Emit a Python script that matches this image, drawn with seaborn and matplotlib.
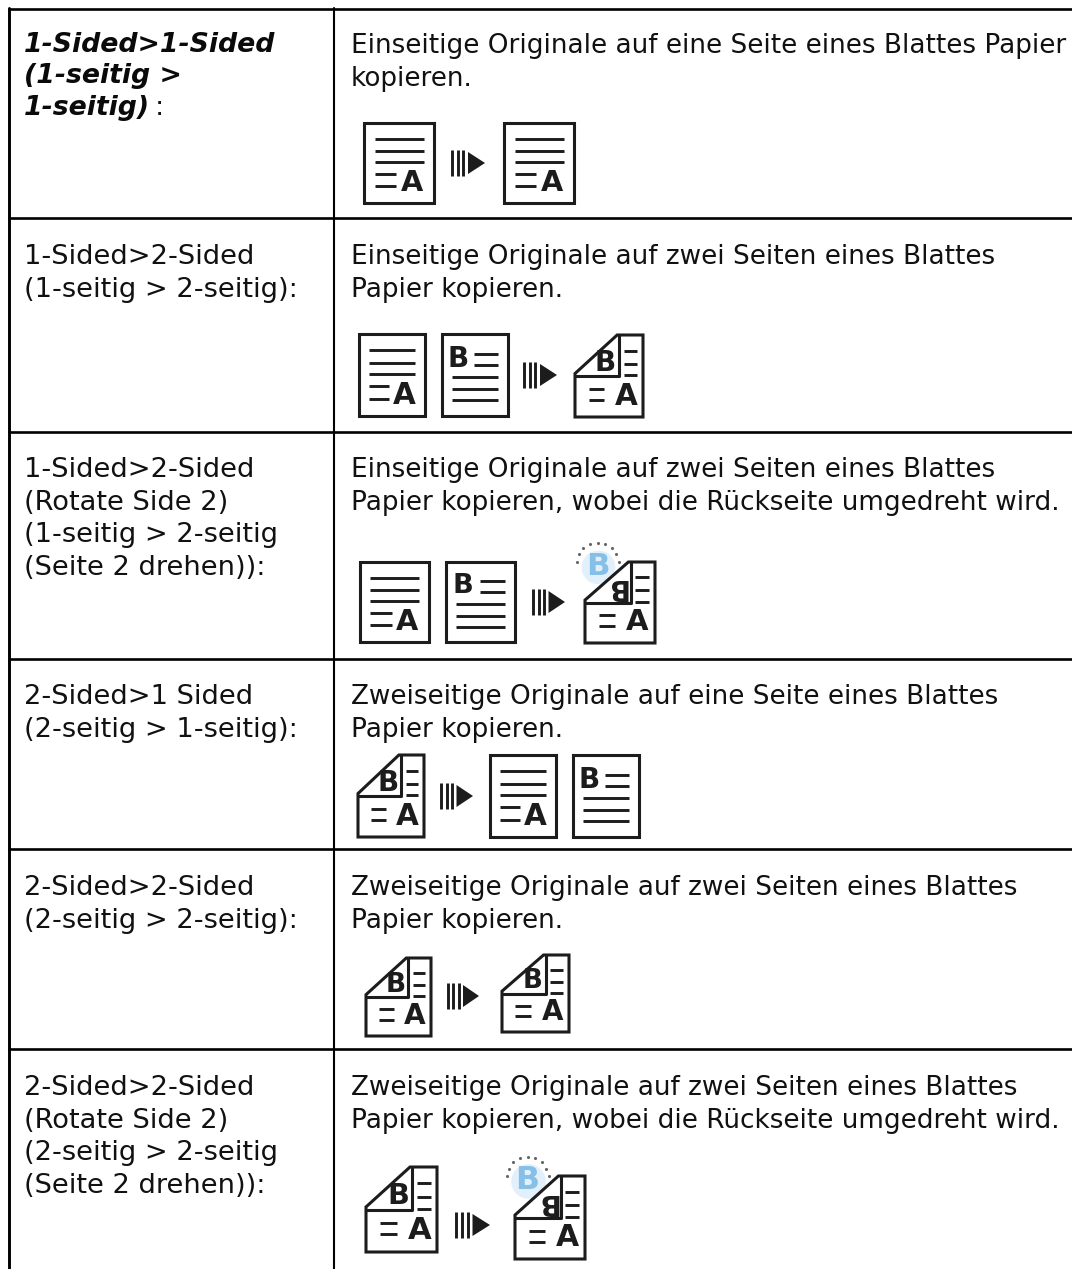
import numpy as np
import matplotlib
matplotlib.use("Agg")
import matplotlib.pyplot as plt
from matplotlib.patches import Rectangle, Polygon
import seaborn as sns

sns.set_theme(style="white")
plt.rcParams['font.family'] = ['DejaVu Sans']

W, H = 1072, 1269
TEXT = '#111111'
FS_RIGHT = 18.9
FS_LEFT = 19.6
FS_HEAD = 19.3

# table rules (pixel rows of the page)
row_rules = [9, 218, 432, 659, 849, 1049]
col_left, col_mid = 9, 334

# left column labels
left_labels = [
    ["1-Sided>2-Sided", "(1-seitig > 2-seitig):"],
    ["1-Sided>2-Sided", "(Rotate Side 2)", "(1-seitig > 2-seitig", "(Seite 2 drehen)):"],
    ["2-Sided>1 Sided", "(2-seitig > 1-seitig):"],
    ["2-Sided>2-Sided", "(2-seitig > 2-seitig):"],
    ["2-Sided>2-Sided", "(Rotate Side 2)", "(2-seitig > 2-seitig", "(Seite 2 drehen)):"],
]
left_first_y = [254, 467, 694, 885, 1085]
head_lines = ["1-Sided>1-Sided", "(1-seitig >", "1-seitig)"]
head_y = [42, 73, 105]

# right column descriptions
right_labels = [
    ["Einseitige Originale auf eine Seite eines Blattes Papier", "kopieren."],
    ["Einseitige Originale auf zwei Seiten eines Blattes", "Papier kopieren."],
    ["Einseitige Originale auf zwei Seiten eines Blattes", "Papier kopieren, wobei die Rückseite umgedreht wird."],
    ["Zweiseitige Originale auf eine Seite eines Blattes", "Papier kopieren."],
    ["Zweiseitige Originale auf zwei Seiten eines Blattes", "Papier kopieren."],
    ["Zweiseitige Originale auf zwei Seiten eines Blattes", "Papier kopieren, wobei die Rückseite umgedreht wird."],
]
right_first_y = [43, 254, 467, 694, 885, 1085]
LINE = 32.7

# icons: (kind, x0, y0, x1, y1)
icons = [
    ("A", 364, 123, 434, 203), ("arrow", 451, 163, 485, 0), ("A", 504, 123, 574, 203),
    ("A", 359, 334, 425, 416), ("B", 442, 334, 508, 416), ("arrow", 523, 375, 557, 0), ("D", 575, 335, 643, 417),
    ("A", 360, 562, 429, 642), ("B", 446, 562, 515, 642), ("arrow", 532, 602, 565, 0), ("R", 585, 562, 655, 643),
    ("D", 358, 755, 424, 837), ("arrow", 440, 796, 473, 0), ("A", 490, 755, 556, 837), ("B", 573, 755, 639, 837),
    ("D", 366, 958, 431, 1036), ("arrow", 447, 996, 479, 0), ("D", 502, 955, 569, 1032),
    ("D", 366, 1167, 437, 1252), ("arrow", 455, 1225, 490, 0), ("R", 515, 1176, 585, 1259),
]

fig = plt.figure(figsize=(W / 100, H / 100), dpi=100, facecolor='white')
ax = fig.add_axes([0, 0, 1, 1])

# table rules
for y in row_rules:
    sns.lineplot(x=[col_left, W], y=[y, y], color='black', lw=1.9, ax=ax, estimator=None, legend=False)
sns.lineplot(x=[col_left, col_left], y=[8, H], color='black', lw=2.1, ax=ax, estimator=None, legend=False, sort=False)
sns.lineplot(x=[col_mid, col_mid], y=[8, H], color='black', lw=1.5, ax=ax, estimator=None, legend=False, sort=False)
ax.set_xlim(0, W)
ax.set_ylim(H, 0)
ax.axis('off')

INK = '#1c1c1c'


def seg(x0, y0, x1, y1, lw=2.1, c=INK, z=4):
    ax.plot([x0, x1], [y0, y1], color=c, lw=lw, solid_capstyle='butt', zorder=z)


def glyph(x, y, s, h, rot=0, c=INK, z=5):
    ax.text(x, y, s, fontsize=h * 0.72, fontweight='bold', color=c, ha='center', va='center',
            rotation=rot, rotation_mode='anchor', zorder=z)


def page(kind, x0, y0, x1, y1):
    w, h = x1 - x0, y1 - y0
    ax.add_patch(Rectangle((x0, y0), w, h, fill=False, ec=INK, lw=2.2))
    if kind == "A":
        for f in (.2, .35, .49):
            seg(x0 + .15 * w, y0 + f * h, x0 + .85 * w, y0 + f * h)
        for f in (.64, .79):
            seg(x0 + .15 * w, y0 + f * h, x0 + .46 * w, y0 + f * h)
        glyph(x0 + .68 * w, y0 + .745 * h, "A", h * .36)
    else:
        glyph(x0 + .24 * w, y0 + .3 * h, "B", h * .34)
        for f in (.24, .38):
            seg(x0 + .49 * w, y0 + f * h, x0 + .85 * w, y0 + f * h)
        for f in (.53, .67, .81):
            seg(x0 + .15 * w, y0 + f * h, x0 + .85 * w, y0 + f * h)


def duplex(x0, y0, x1, y1, rotated=False):
    w, h = x1 - x0, y1 - y0
    p = lambda a, b: (x0 + a * w, y0 + b * h)
    if rotated:
        blue_x, blue_y = x0 + .18 * w, y0 + .06 * h
        ax.scatter([blue_x], [blue_y], s=(h * .3) ** 2, color='#e1f0fa', lw=0, zorder=1)
        glyph(blue_x, blue_y, "B", h * .38, c='#86bfe8', z=2)
        th = np.linspace(np.pi * 1.03, np.pi * 1.97, 9)
        ax.scatter(blue_x + .3 * w * np.cos(th), blue_y - 3 + .3 * w * np.sin(th),
                   s=5, color='#666666', lw=0, zorder=2)
    ax.add_patch(Polygon([p(0, 1), p(0, .47), p(.62, 0), p(1, 0), p(1, 1)], closed=True,
                         fill=True, fc='white', ec=INK, lw=2.2, zorder=3))
    ax.plot(*zip(p(0, .5), p(.65, .5), p(.65, 0)), color=INK, lw=2.2, zorder=4)
    for f in (.19, .35, .49):
        a, b = p(.72, f), p(.91, f)
        seg(a[0], a[1], b[0], b[1])
    for f in (.66, .79):
        a, b = p(.2, f), p(.43, f)
        seg(a[0], a[1], b[0], b[1])
    gx, gy = p(.75, .745)
    glyph(gx, gy, "A", h * .36)
    gx, gy = p(.45, .34 if not rotated else .31)
    glyph(gx, gy, "B", h * .34, rot=180 if rotated else 0)


def arrow(x0, cy, x1):
    w = x1 - x0
    for f in (.04, .2, .36):
        seg(x0 + f * w, cy - 13, x0 + f * w, cy + 13, lw=2.1)
    ax.add_patch(Polygon([(x0 + .5 * w, cy - 11), (x1, cy), (x0 + .5 * w, cy + 11)], closed=True, fc=INK, ec='none'))


for kind, a, b, c, d in icons:
    if kind in ("A", "B"):
        page(kind, a, b, c, d)
    elif kind == "arrow":
        arrow(a, b, c)
    else:
        duplex(a, b, c, d, rotated=kind == "R")

# text
for s, y in zip(head_lines, head_y):
    ax.text(24, y, s, fontsize=FS_HEAD, fontweight='bold', fontstyle='italic', color='#0a0a0a', va='center_baseline')
ax.text(155, head_y[2], ":", fontsize=FS_LEFT, color=TEXT, va='center_baseline')

for lines, y0 in zip(left_labels, left_first_y):
    for i, s in enumerate(lines):
        ax.text(24, y0 + i * LINE, s, fontsize=FS_LEFT, color=TEXT, va='center_baseline')

for lines, y0 in zip(right_labels, right_first_y):
    for i, s in enumerate(lines):
        ax.text(351, y0 + i * LINE, s, fontsize=FS_RIGHT, color=TEXT, va='center_baseline')

fig.savefig('out.png', dpi=100, facecolor='white')
